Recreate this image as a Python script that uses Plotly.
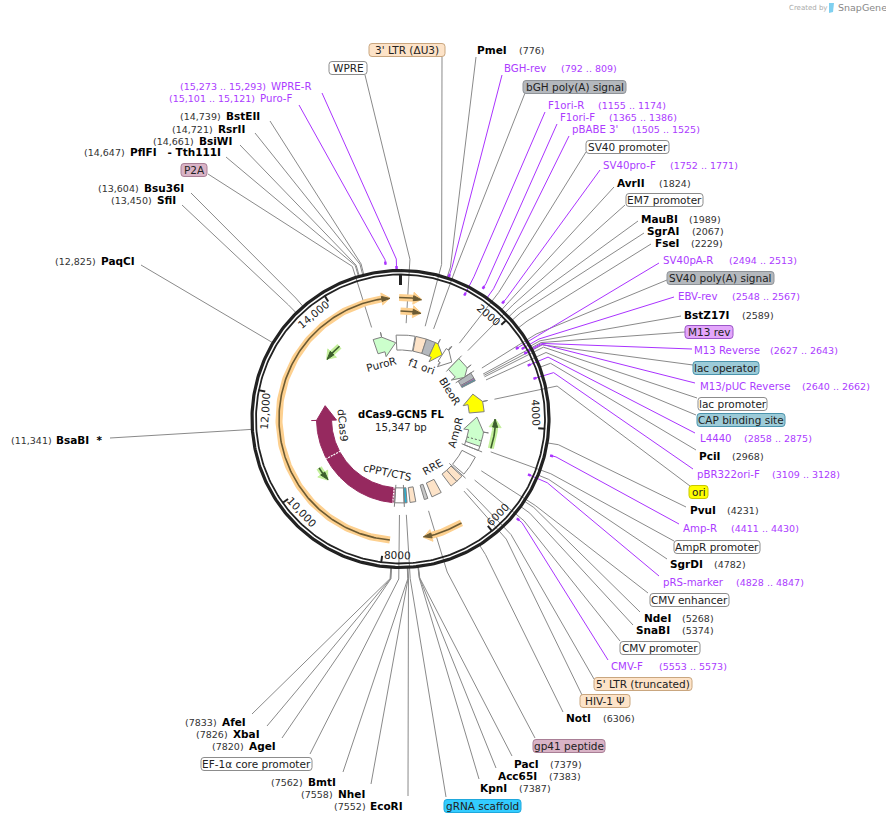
import numpy as np
import plotly.graph_objects as go

TOTAL = 15347
CX, CY = 400.5, 419
R_ELBOW = 160
R_FEATURE = 94

# restriction sites
site_names = ['PmeI', 'AvrII', 'MauBI', 'SgrAI', 'FseI', 'BstZ17I', 'PciI', 'PvuI', 'SgrDI', 'NdeI', 'SnaBI', 'NotI',
              'PacI', 'Acc65I', 'KpnI', 'EcoRI', 'NheI', 'BmtI', 'AgeI', 'XbaI', 'AfeI',
              'BsaBI\u00a0\u00a0*', 'PaqCI', 'SfiI', 'Bsu36I', 'PflFI\u00a0\u00a0\u00a0- Tth111I', 'BsiWI', 'RsrII', 'BstEII']
site_pos = [776, 1824, 1989, 2067, 2229, 2589, 2968, 4231, 4782, 5268, 5374, 6306,
            7379, 7383, 7387, 7552, 7558, 7562, 7820, 7826, 7833,
            11341, 12825, 13450, 13604, 14647, 14661, 14721, 14739]
site_name_x = [476, 616, 640, 646, 654, 683, 698, 689, 669, 643, 635, 565,
               513, 497, 479, 369, 337, 307, 248, 232, 221,
               55, 100, 156, 143, 129, 198, 217, 225]
site_coord_x = [518, 658, 688, 691, 690, 741, 731, 726, 713, 681, 681, 602,
                549, 548, 518, 333, 300, 270, 211, 195, 184,
                10, 54, 110, 97, 83, 152, 171, 179]
site_y = [50, 183, 219, 231, 243, 315, 456, 510, 564, 618, 630, 718,
          764, 776, 788, 806, 794, 782, 746, 734, 722,
          440, 261, 200, 188, 152, 141, 129, 116]
site_end_x = [476, 614, 638, 644, 651, 681, 696, 686, 667, 640, 633, 563,
              512, 496, 479, 408, 371, 343, 282, 267, 252,
              110, 141, 182, 191, 226, 240, 255, 270]
site_end_y = [57, 187, 221, 233, 244, 316, 450, 507, 559, 612, 625, 712,
              756, 768, 779, 796, 784, 772, 738, 726, 714,
              438, 265, 205, 193, 157, 145, 133, 121]

# primers
primer_names = ['WPRE-R', 'Puro-F', 'BGH-rev', 'F1ori-R', 'F1ori-F', "pBABE 3'", 'SV40pro-F', 'SV40pA-R', 'EBV-rev',
                'M13 Reverse', 'M13/pUC Reverse', 'L4440', 'pBR322ori-F', 'Amp-R', 'pRS-marker', 'CMV-F']
primer_start = [15273, 15101, 792, 1155, 1365, 1505, 1752, 2494, 2548, 2627, 2640, 2858, 3109, 4411, 4828, 5553]
primer_end = [15293, 15121, 809, 1174, 1386, 1525, 1771, 2513, 2567, 2643, 2662, 2875, 3128, 4430, 4847, 5573]
primer_name_x = [270, 259, 503, 547, 559, 571, 602, 662, 677, 693, 699, 699, 696, 682, 662, 610]
primer_coord_x = [179, 168, 560, 597, 608, 631, 669, 728, 731, 769, 801, 743, 771, 730, 735, 658]
primer_y = [86, 98, 68, 105, 117, 129, 165, 260, 296, 350, 386, 438, 474, 528, 582, 666]
primer_end_x = [322, 299, 502, 545, 557, 569, 600, 659, 674, 692, 695, 695, 693, 679, 659, 608]
primer_end_y = [93, 105, 75, 112, 124, 136, 170, 263, 297, 349, 383, 433, 469, 524, 576, 660]
primer_r = [150, 155, 150, 139, 154, 147, 154, 135, 140, 145, 140, 138, 139, 154, 139, 153]

# feature labels with boxes
label_names = ["3' LTR (\u0394U3)", 'WPRE', 'P2A', 'bGH poly(A) signal', 'SV40 promoter', 'EM7 promoter',
               'SV40 poly(A) signal', 'M13 rev', 'lac operator', 'lac promoter', 'CAP binding site', 'ori',
               'AmpR promoter', 'CMV enhancer', 'CMV promoter', "5' LTR (truncated)", 'HIV-1 \u03a8', 'gp41 peptide',
               'gRNA scaffold', 'EF-1\u03b1 core promoter']
label_pos = [635, 144, 14600, 860, 1612, 1900, 2470, 2620, 2660, 2700, 2790, 3330,
             4690, 5230, 5520, 5810, 5910, 6950, 7525, 7700]
label_x0 = [369, 329, 181, 523, 586, 626, 667, 685, 693, 698, 697, 689, 674, 650, 620, 594, 580, 533, 444, 201]
label_x1 = [445, 367, 207, 626, 669, 703, 774, 733, 759, 767, 785, 708, 760, 729, 700, 692, 630, 605, 521, 312]
label_y = [50, 68, 170, 87, 147, 200, 278, 332, 368, 404, 420, 492, 547, 600, 648, 684, 701, 746, 806, 764]
label_end_x = [442, 365, 208, 525, 586, 625, 667, 685, 693, 697, 696, 690, 674, 648, 620, 594, 582, 535, 446, 310]
label_end_y = [57, 75, 174, 93, 152, 205, 280, 332, 365, 398, 415, 486, 541, 593, 641, 679, 695, 738, 797, 754]
label_fill = ['#fde3c8', '#ffffff', '#d9b3c6', '#b4b8bd', '#ffffff', '#ffffff', '#b4b8bd', '#e3a6fb', '#9ccbd8',
              '#ffffff', '#9ccbd8', '#ffff00', '#ffffff', '#ffffff', '#ffffff', '#fde3c8', '#fde3c8', '#d9b3c6',
              '#33ccff', '#ffffff']
label_line = ['#c9a67f', '#8c8c8c', '#a97f96', '#8f9398', '#8c8c8c', '#8c8c8c', '#8f9398', '#9b55c8', '#4b94ad',
              '#8c8c8c', '#4b94ad', '#c8c800', '#8c8c8c', '#8c8c8c', '#8c8c8c', '#c9a67f', '#c9a67f', '#a97f96',
              '#1fa8dc', '#8c8c8c']

# directional features: tail, base of head, tip
arrow_names = ['PuroR', 'f1 ori', 'SV40 promoter', 'BleoR', 'ori', 'AmpR', 'dCas9']
arrow_tail = [14537, 1044, 1407, 1875, 3624, 4647, 7887]
arrow_base = [14793, 1130, 1500, 2240, 3325, 4220, 11468]
arrow_tip = [15194, 1407, 1790, 2430, 3027, 3773, 11937]
arrow_fill = ['#ccffcc', '#ffff00', '#ffffff', '#ccffcc', '#ffff00', '#ccffcc', '#96295f']

# plain features
box_start = [-128, 448, 767, 2420, 2600, 2640, 4560, 4988, 5670, 5883, 6437, 6864, 7226, 7482, 7567]
box_end = [426, 767, 1044, 2600, 2640, 2680, 4775, 5585, 5883, 6096, 6736, 6970, 7396, 7567, 7845]
box_fill = ['#ffffff', '#fde3c8', '#b4b8bd', '#b4b8bd', '#cc66ff', '#33a5c5', '#ffffff', '#ffffff', '#fde3c8',
            '#fde3c8', '#fde3c8', '#c8c8c8', '#fde3c8', '#1fb5dc', '#ffffff']
whisker_pos = [1480, 1875, 2420, 4775, 5640, 7567, 7845]

# open reading frames
orf_tail = [7887, -28, 0, 6377]
orf_tip = [15134, 426, 469, 7205]
orf_r = [121.5, 121.5, 108, 120.5]
green_tail = [4604, 13642, 10189]
green_tip = [3837, 13173, 9805]

tick_pos = [2000, 4000, 6000, 8000, 10000, 12000, 14000]
tick_text = ['2000', '4000', '6000', '8000', '10,000', '12,000', '14,000']

inner_text = ['PuroR', 'f1 ori', 'BleoR', 'AmpR', 'RRE', 'cPPT/CTS', 'dCas9']
inner_x = [381.7, 421, 450, 455, 432, 387, 343]
inner_y = [364, 366, 391, 433, 467, 472, 425]
inner_rot = [-15, 20, 58, -75, -30, 12, 85]


def pt(bp, r):
    th = 2 * np.pi * np.asarray(bp, dtype=float) / TOTAL
    return CX + r * np.sin(th), CY - r * np.cos(th)


def seg(bp0, bp1, r0, r1=None):
    r1 = r0 if r1 is None else r1
    n = max(2, int(abs(bp1 - bp0) / 40) + 2)
    return pt(np.linspace(bp0, bp1, n), np.linspace(r0, r1, n))


def coord(v):
    return format(v, ',') if v >= 10000 else str(v)


fig = go.Figure()


def line(x, y, color='#8a8a8a', width=1, dash=None):
    fig.add_trace(go.Scatter(x=list(x), y=list(y), mode='lines', hoverinfo='skip',
                             line=dict(color=color, width=width, dash=dash)))


def poly(parts, fill, color='#808080', width=1):
    x = np.concatenate([p[0] for p in parts])
    y = np.concatenate([p[1] for p in parts])
    fig.add_trace(go.Scatter(x=np.append(x, x[0]), y=np.append(y, y[0]), mode='lines', fill='toself',
                             fillcolor=fill, hoverinfo='skip', line=dict(color=color, width=width)))


def text(x, y, s, size=10.5, color='#222222', anchor='left', bold=False, angle=0):
    if bold:
        s = '<b>' + s + '</b>'
    fig.add_annotation(x=x, y=y, text=s, showarrow=False, xanchor=anchor, yanchor='middle', textangle=angle,
                       borderpad=0, font=dict(family='DejaVu Sans', size=size, color=color))


def leader(bp, r_in, ex, ey, color='#8a8a8a'):
    x0, y0 = pt(bp, r_in)
    x1, y1 = pt(bp, R_ELBOW)
    line([x0, x1, ex], [y0, y1, ey], color=color)


def orf(tail, tip, r, glow, dark, glow_w=7):
    sign = 1 if tip > tail else -1
    head = tip - sign * 0.018 * TOTAL * (121 / r) * 0.6
    x, y = seg(tail, head, r)
    line(x, y, color=glow, width=glow_w)
    poly([pt([head, tip, head], np.array([r - 6, r, r + 6]))], glow, color=glow)
    line(x, y, color=dark, width=1.6)
    poly([pt([head, tip, head], np.array([r - 2.5, r - 0.5, r + 2.5]))], dark, color=dark)


for i, name in enumerate(site_names):
    leader(site_pos[i], 148, site_end_x[i], site_end_y[i])
    text(site_name_x[i], site_y[i], name, size=10.5, color='#000000', bold=True)
    text(site_coord_x[i], site_y[i] + 0.5, '(%s)' % coord(site_pos[i]), size=9.5, color='#333333')

for i, name in enumerate(label_names):
    r_in = 96 if name not in ('M13 rev', 'lac operator', 'lac promoter', 'CAP binding site') else 94
    leader(label_pos[i], r_in, label_end_x[i], label_end_y[i])

PURPLE = '#aa33ff'
for i, name in enumerate(primer_names):
    mid = (primer_start[i] + primer_end[i]) / 2
    leader(mid, primer_r[i], primer_end_x[i], primer_end_y[i], color=PURPLE)
    x, y = pt(mid, np.array([primer_r[i], primer_r[i] + 3]))
    line(x, y, color=PURPLE, width=2.5)
    text(primer_name_x[i], primer_y[i], name, size=10.2, color='#ac3cff')
    text(primer_coord_x[i], primer_y[i] + 0.5, '(%s .. %s)' % (coord(primer_start[i]), coord(primer_end[i])),
         size=9.5, color='#ac3cff')

# plain feature boxes
for i in range(len(box_start)):
    poly([seg(box_start[i], box_end[i], 84), seg(box_end[i], box_start[i], 69)], box_fill[i])
for p in whisker_pos:
    x, y = pt([p, p], np.array([66, 88]))
    line(x, y, color='#808080')

# arrows on the feature ring
for i in range(len(arrow_names)):
    tail, base, tip = arrow_tail[i], arrow_base[i], arrow_tip[i]
    poly([seg(tail, base, 84), seg(base, base, 89, 84)[0:2], pt([tip], 76.5), pt([base], 64),
          seg(base, tail, 69)], arrow_fill[i], color='#808080' if arrow_names[i] != 'dCas9' else '#96295f')

# dashed seams inside dCas9 and the AmpR tail
for p in [10310, 7900]:
    sx, sy = pt([p, p], np.array([68, 84]))
    line(sx, sy, color='#ffffff', width=1.2, dash='2px,1px')
sx, sy = pt([4480, 4480], np.array([69, 84]))
line(sx, sy, color='#666666', width=1, dash='2px,2px')

for i in range(len(orf_tail)):
    orf(orf_tail[i], orf_tip[i], orf_r[i], '#fdd08f', '#6b5a33')
for i in range(len(green_tail)):
    orf(green_tail[i], green_tip[i], 95, '#c4f09c', '#3c5f2c', glow_w=6)

# backbone
ring_bp = np.linspace(0, TOTAL, 361)
x, y = pt(ring_bp, 148.5)
line(x, y, color='#222222', width=3.2)
x, y = pt(ring_bp, 144.5)
line(x, y, color='#222222', width=1.8)

x, y = pt([0, 0], np.array([134, 145]))
line(x, y, color='#222222', width=3)
for i, p in enumerate(tick_pos):
    x, y = pt([p, p], np.array([138, 145]))
    line(x, y, color='#222222', width=2)
    deg = p / TOTAL * 360
    off = 8 if len(tick_text[i]) > 4 else 6.5
    lx, ly = pt(p - off / 360 * TOTAL, 136)
    rot = deg - off
    if 90 + off < deg < 270 + off:
        rot -= 180
    text(float(lx), float(ly), tick_text[i], size=10.5, color='#222222', anchor='center', angle=rot if rot <= 180 else rot - 360)

for i, s in enumerate(inner_text):
    text(inner_x[i], inner_y[i], s, size=10.5, color='#222222', anchor='center', angle=inner_rot[i])

text(CX, 414, 'dCas9-GCN5 FL', size=10, color='#000000', anchor='center', bold=True)
text(CX, 427, format(TOTAL, ',') + ' bp', size=10.2, color='#222222', anchor='center')

# label boxes
for i, s in enumerate(label_names):
    x0, x1, yc = label_x0[i], label_x1[i], label_y[i]
    y0, y1 = yc - 6.5, yc + 6.5
    c = 3
    path = (f'M{x0 + c},{y0} L{x1 - c},{y0} Q{x1},{y0} {x1},{y0 + c} L{x1},{y1 - c} Q{x1},{y1} {x1 - c},{y1} '
            f'L{x0 + c},{y1} Q{x0},{y1} {x0},{y1 - c} L{x0},{y0 + c} Q{x0},{y0} {x0 + c},{y0} Z')
    fig.add_shape(type='path', path=path, xref='x', yref='y', fillcolor=label_fill[i], layer='above',
                  line=dict(color=label_line[i], width=1))
    text((x0 + x1) / 2, yc, s, size=10.5, color='#222222', anchor='center')

text(788, 7.5, 'Created by', size=7, color='#aaaaaa')
text(837, 7.5, 'SnapGene', size=9.5, color='#888888')
fig.add_shape(type='path', path='M829,3 L834,3 L833,12 L829,13 Z', xref='x', yref='y', fillcolor='#7fd0f0',
              layer='above', line=dict(width=0))

fig.update_layout(width=886, height=823, margin=dict(l=0, r=0, t=0, b=0), showlegend=False,
                  plot_bgcolor='white', paper_bgcolor='white',
                  xaxis=dict(range=[0, 886], visible=False, fixedrange=True),
                  yaxis=dict(range=[823, 0], visible=False, fixedrange=True))
fig.write_html('out.html', config=dict(displayModeBar=False), post_script="document.body.style.margin='0';")
